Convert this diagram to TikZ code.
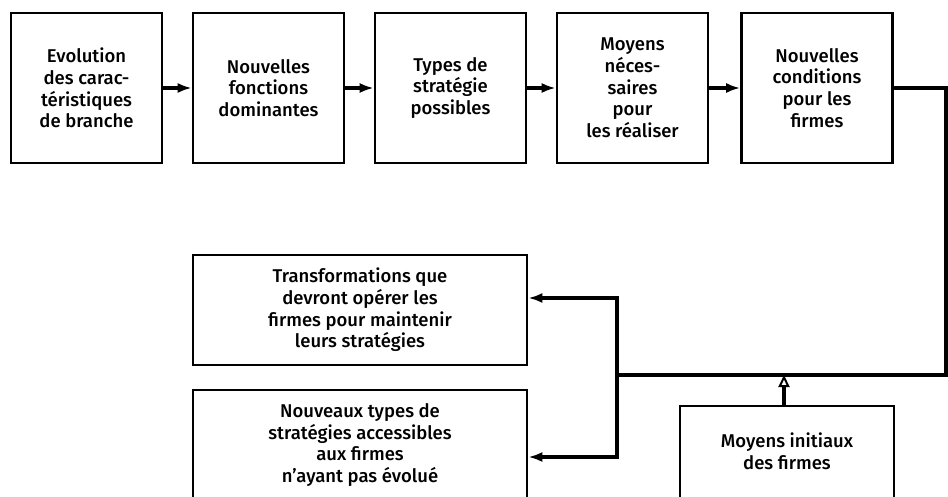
\documentclass[tikz,border=0pt]{standalone}
\usepackage{fontspec}
\setmainfont{Fira Sans}[UprightFont=* Medium]
\usetikzlibrary{arrows.meta}
\begin{document}
\begin{tikzpicture}[x=1pt,y=-1pt,
  box/.style={draw, line width=2.6pt, rectangle, inner sep=0pt, align=center},
  topbox/.style={box, minimum width=151pt, minimum height=150pt},
  txt/.style={font=\fontsize{18.5}{21.7}\selectfont},
  lbl/.style={txt, align=center, inner sep=0pt},
  conn/.style={line width=3.2pt},
  arr/.style={conn, -{Latex[length=14pt,width=10pt]}},
  openarr/.style={conn, -{Triangle[open,length=12pt,width=11pt,line width=2pt]}}]
  \useasboundingbox (0,0) rectangle (948,497);

  % top chain
  \node[topbox, txt] (b1) at (86.5,88) {Evolution\\des carac-\\téristiques\\de branche};
  \node[topbox, txt] (b2) at (268.5,88) {Nouvelles\\fonctions\\dominantes};
  \node[topbox, txt] (b3) at (450.5,88) {Types de\\stratégie\\possibles};
  \node[topbox, txt] (b4) at (632.5,88) {Moyens\\néces-\\saires\\pour\\les réaliser};
  \node[topbox, txt] (b5) at (817,88) {Nouvelles\\conditions\\pour les\\firmes};

  \draw[arr] (b1.east) -- (b2.west);
  \draw[arr] (b2.east) -- (b3.west);
  \draw[arr] (b3.east) -- (b4.west);
  \draw[arr] (b4.east) -- (b5.west);

  % lower boxes
  \node[box, txt, minimum width=334pt, minimum height=110pt] (trans) at (360,310)
    {Transformations que\\devront opérer les\\firmes pour maintenir\\leurs stratégies};
  \node[box, minimum width=334pt, minimum height=130pt] (nouv) at (360,455) {};
  \node[lbl] (nouvt) at (360,445) {Nouveaux types de\\stratégies accessibles\\aux firmes\\n’ayant pas évolué};
  \node[box, minimum width=214pt, minimum height=114pt] (mi) at (787,463) {};
  \node[lbl] (mit) at (787,451) {Moyens initiaux\\des firmes};

  % feedback loop
  \coordinate (c1) at (946,88);
  \coordinate (c2) at (946,375);
  \coordinate (j) at (617,375);
  \coordinate (ju) at (617,298);
  \coordinate (jd) at (617,457);
  \coordinate (ma) at (784,375);

  \draw[conn, line join=miter] (b5.east) -- (c1) -- (c2) -- (j);
  \draw[arr, line join=miter] (j) -- (ju) -- (trans.east |- ju);
  \draw[arr, line join=miter] (j) -- (jd) -- (nouv.east |- jd);
  \draw[openarr] (mi.north -| ma) -- (ma);
\end{tikzpicture}
\end{document}
